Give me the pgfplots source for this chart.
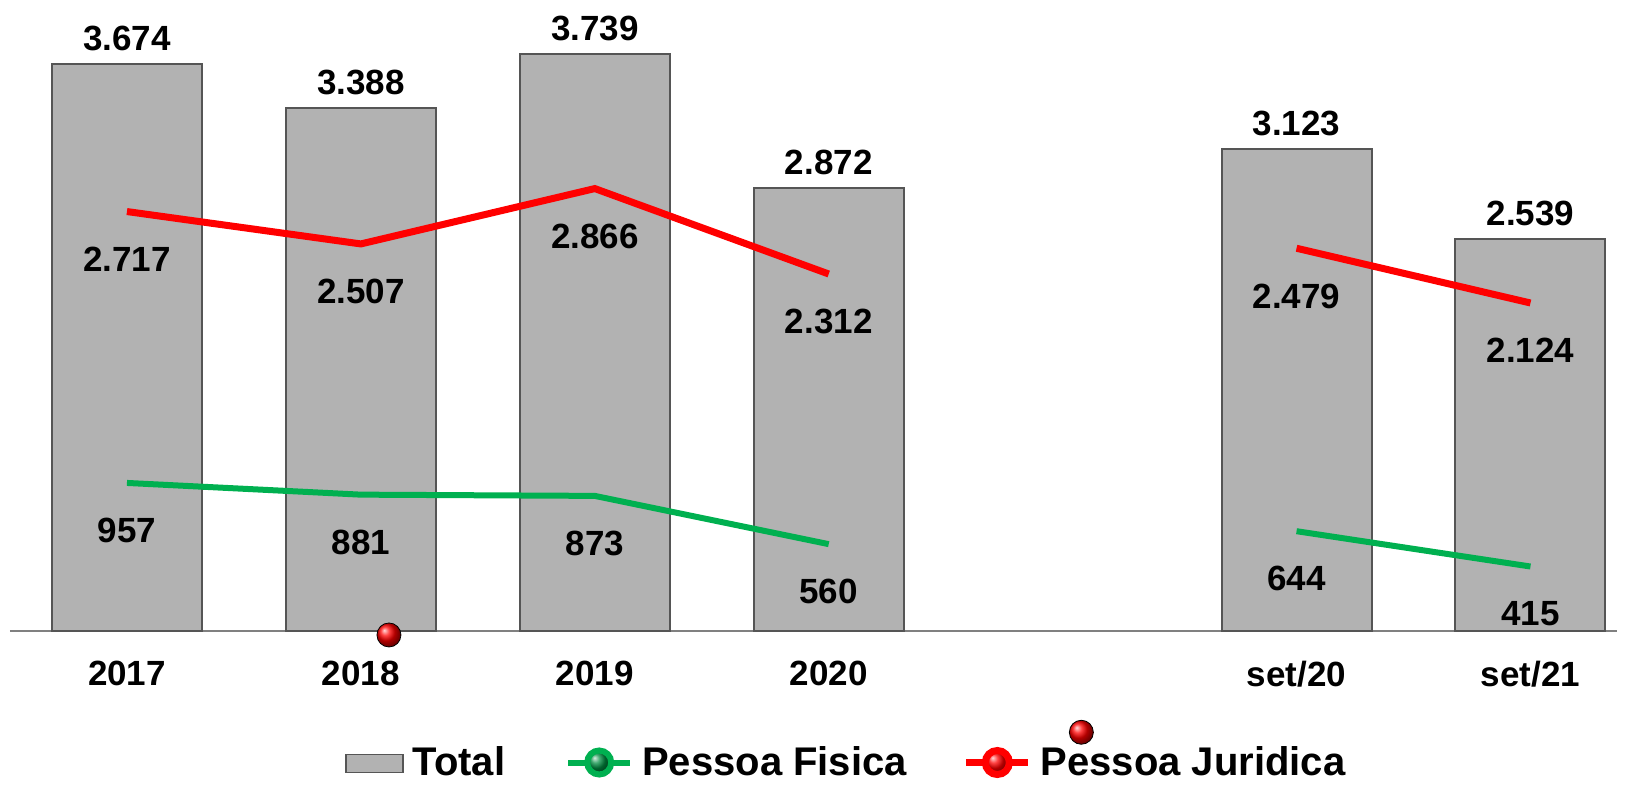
\documentclass[border=0pt]{standalone}
\usepackage{pgfplots}
\pgfplotsset{compat=1.18}
\usepackage{fontspec}
\setmainfont{Liberation Sans}
\definecolor{barfill}{RGB}{178,178,178}
\definecolor{baredge}{RGB}{85,85,85}
\definecolor{pfgreen}{RGB}{0,176,80}
\definecolor{pjred}{RGB}{255,0,0}
\begin{document}
\begin{tikzpicture}
\begin{axis}[
    scale only axis,
    width=803.5pt, height=315.25pt,
    xmin=-0.5, xmax=6.37,
    ymin=0, ymax=4089,
    clip=false,
    axis x line=bottom,
    axis y line=none,
    x axis line style={-, draw=gray, line width=1pt},
    xtick={0,1,2,3,5,6},
    xticklabels={2017,2018,2019,2020,set/20,set/21},
    major tick length=0pt,
    x tick label style={font=\fontsize{17.5}{20}\selectfont\bfseries, inner sep=0pt, anchor=north, yshift=-15pt},
    unbounded coords=jump,
    /pgf/number format/.cd, 1000 sep={.}, assume math mode=true,
    /pgfplots/.cd,
    nodes near coords style={font=\fontsize{17.5}{20}\selectfont\bfseries, inner sep=0pt, text=black},
    legend columns=-1,
    legend style={at={(0.521,0)}, anchor=center, yshift=-66pt, draw=none, fill=none,
        font=\fontsize{20}{22}\selectfont\bfseries, inner sep=0pt,
        /tikz/every odd column/.append style={column sep=2.5pt},
        /tikz/column 2/.style={column sep=28pt},
        /tikz/column 4/.style={column sep=26pt}},
]
% Total (barras)
\addplot[ybar, bar width=75pt, fill=barfill, draw=baredge, line width=1pt,
    nodes near coords, every node near coord/.append style={anchor=south, yshift=6pt},
    legend image code/.code={\draw[fill=barfill, draw=baredge, line width=0.8pt] (0pt,-5pt) rectangle (28.5pt,4pt);}]
    coordinates {(0,3674) (1,3388) (2,3739) (3,2872) (5,3123) (6,2539)};
\addlegendentry{Total}
% Pessoa Fisica
\addplot[pfgreen, line width=3pt, no marks,
    nodes near coords, every node near coord/.append style={anchor=north, yshift=-16pt},
    legend image code/.code={\draw[pfgreen, line width=3pt] (0pt,0pt) -- (31pt,0pt);
        \shade[ball color=pfgreen!80!black] (15.5pt,0pt) circle (6pt);}]
    coordinates {(0,957) (1,881) (2,873) (3,560) (4,nan) (5,644) (6,415)};
\addlegendentry{Pessoa Fisica}
% Pessoa Juridica
\addplot[pjred, line width=3.5pt, no marks,
    nodes near coords, every node near coord/.append style={anchor=north, yshift=-16pt},
    legend image code/.code={\draw[pjred, line width=3.5pt] (0pt,0pt) -- (31pt,0pt);
        \shade[ball color=pjred] (15.5pt,0pt) circle (6pt);}]
    coordinates {(0,2717) (1,2507) (2,2866) (3,2312) (4,nan) (5,2479) (6,2124)};
\addlegendentry{Pessoa Juridica}
% marcadores soltos
\addplot[only marks, mark=ball, mark size=6pt, ball color=pjred, forget plot]
    coordinates {(1.12,-29) (4.08,-660)};
\end{axis}
\pgfresetboundingbox
\path[use as bounding box] ([shift={(-5pt,-77.25pt)}]current axis.south west) rectangle ([shift={(5.5pt,0pt)}]current axis.north east);
\end{tikzpicture}
\end{document}
